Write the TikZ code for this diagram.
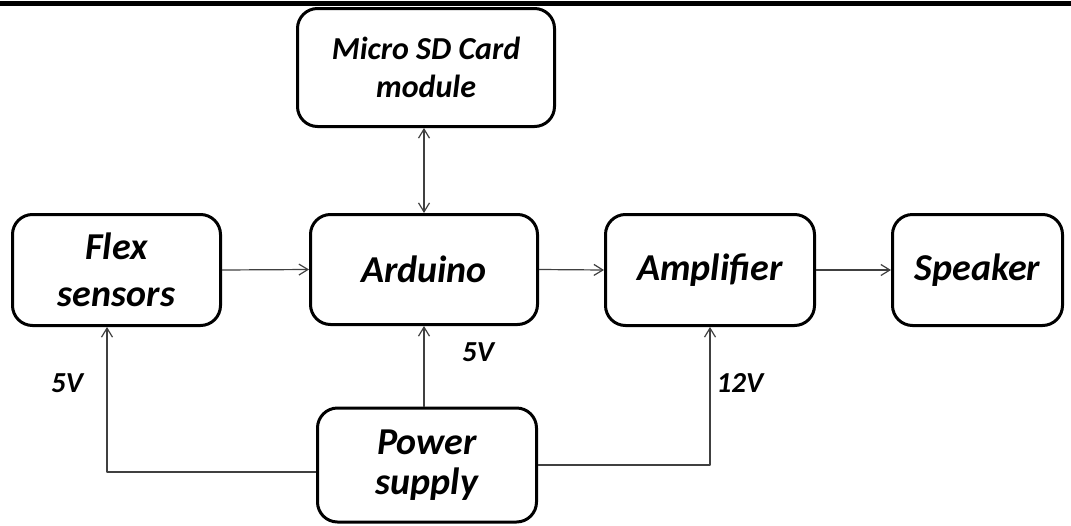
\documentclass[tikz,border=0pt]{standalone}
\usepackage{fontspec}
\setmainfont{Carlito}
\usepackage{tikz}
\usetikzlibrary{arrows.meta,calc,positioning}
\tikzset{
  block/.style={draw,line width=1.5pt,rounded corners=10pt,align=center,
    inner sep=0pt,font=\fontsize{19}{23.5}\selectfont\bfseries\itshape},
  link/.style={line width=.6pt,draw=black!75},
  volt label/.style={font=\fontsize{14.5}{16}\selectfont\bfseries\itshape,inner sep=0pt},
  >={Straight Barb[length=4.5pt,width=5.5pt]}
}

\begin{document}
\begin{tikzpicture}[x=0.5pt,y=-0.5pt,line join=round]
  \useasboundingbox (0,0) rectangle (1071,525);
  % rule along the top edge
  \fill (0,1) rectangle (1071,6);

  % the blocks, placed at their centres
  \node[block,minimum width=128.5pt,minimum height=59pt,
        font=\fontsize{16}{19}\selectfont\bfseries\itshape] (sd) at (426,67.5)
        {Micro SD Card\\module};
  \node[block,minimum width=104pt,minimum height=55.5pt] (flex) at (116.5,270) {Flex\\sensors};
  \node[block,minimum width=113.5pt,minimum height=55pt] (ard) at (424,269.5) {Arduino};
  \node[block,minimum width=104.5pt,minimum height=55.5pt] (amp) at (710,270) {Amplifier};
  \node[block,minimum width=85pt,minimum height=55.5pt] (spk) at (977.5,270) {Speaker};
  \node[block,minimum width=109.5pt,minimum height=57pt,
        font=\fontsize{19}{20}\selectfont\bfseries\itshape] (pwr) at (427,465) {Power\\supply};

  % signal path
  \draw[link,->] (flex.east) -- (ard.west);
  \draw[link,->] (ard.east) -- (amp.west);
  \draw[link,->] (amp.east) -- (spk.west);
  \draw[link,<->] (sd.south -| ard.north) -- (ard.north);

  % supply lines
  \draw[link,->] (ard.south |- pwr.north) -- (ard.south);
  \draw[link,->] ([yshift=-3.5pt]pwr.west) -| ([xshift=-4.75pt]flex.south);
  \draw[link,->] (pwr.east) -| (amp.south);

  \node[volt label] (vflex) at (67,383) {5V};
  \node[volt label] (vard) at (478,352) {5V};
  \node[volt label] (vamp) at (740,383) {12V};
\end{tikzpicture}
\end{document}
